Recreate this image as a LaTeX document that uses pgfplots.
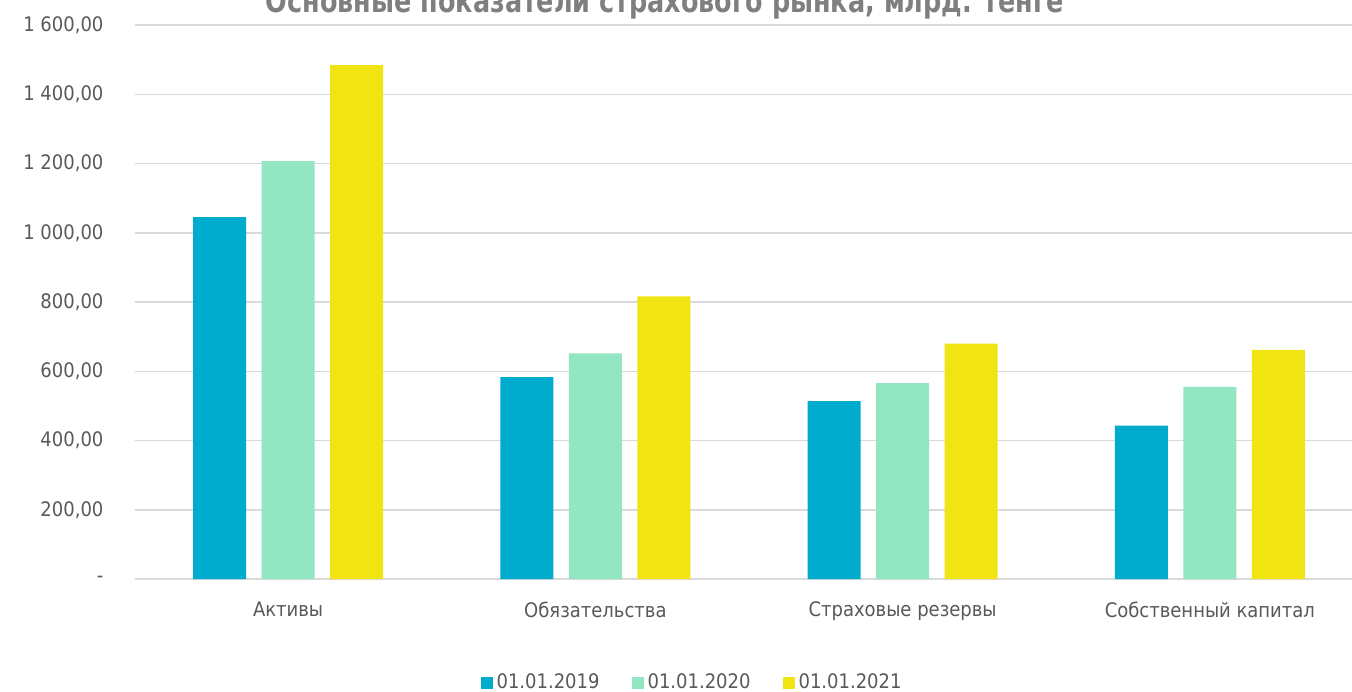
\documentclass[border=0pt]{standalone}
\usepackage{pgfplots}
\pgfplotsset{compat=1.18}
\usepackage{graphicx}
\usepackage{fontspec}
\setmainfont{DejaVu Sans Condensed}
\definecolor{c1}{RGB}{0,172,205}
\definecolor{c2}{RGB}{146,230,194}
\definecolor{c3}{RGB}{240,228,19}
\definecolor{gridc}{RGB}{217,217,217}
\definecolor{txt}{RGB}{89,89,89}
\definecolor{ttl}{RGB}{127,127,127}
\begin{document}
\begin{tikzpicture}
\begin{axis}[
  at={(67.25pt,-289.5pt)}, anchor=south west,
  scale only axis, width=614.5pt, height=277pt,
  ymin=0, ymax=1600, xmin=-0.5, xmax=3.5,
  ybar, bar width=26.5pt,
  axis line style={draw=none},
  xtick={0,1,2,3},
  xticklabels={Активы,Обязательства,Страховые резервы,Собственный капитал},
  ytick={0,200,...,1600},
  yticklabels={{-},{200,00},{400,00},{600,00},{800,00},{1 000,00},{1 200,00},{1 400,00},{1 600,00}},
  major tick length=0pt, tick style={draw=none},
  ymajorgrids, grid style={gridc, line width=0.75pt},
  ticklabel style={font=\fontsize{10}{12}\selectfont, text=txt},
  /pgf/number format/assume math mode=true,
  yticklabel style={xshift=-12pt},
  xticklabel style={yshift=-8pt},
  legend columns=3,
  legend style={at={(0.4545,-0.1877)}, anchor=center, draw=none,
    font=\fontsize{10}{12}\selectfont, text=txt,
    /tikz/every even column/.append style={column sep=14pt}},
  legend image code/.code={\fill[#1] (0pt,-3pt) rectangle (6pt,3pt);},
  clip=false,
]
\addplot[fill=c1, draw=none, bar shift=-34.25pt] coordinates {(0,1045) (1,583) (2,514) (3,443)};
\addplot[fill=c2, draw=none, bar shift=0pt] coordinates {(0,1207) (1,652) (2,566) (3,555)};
\addplot[fill=c3, draw=none, bar shift=34.25pt] coordinates {(0,1484) (1,816) (2,680) (3,662)};
\legend{01.01.2019,01.01.2020,01.01.2021}
\end{axis}
\node[anchor=base, inner sep=0pt, font=\bfseries\fontsize{16}{18}\selectfont, text=ttl] at (332.5pt,-6.3pt) {\scalebox{0.885}[1]{Основные показатели страхового рынка, млрд. тенге}};
\pgfresetboundingbox
\path (0,0) rectangle (676pt,-345.5pt);
\end{tikzpicture}
\end{document}
